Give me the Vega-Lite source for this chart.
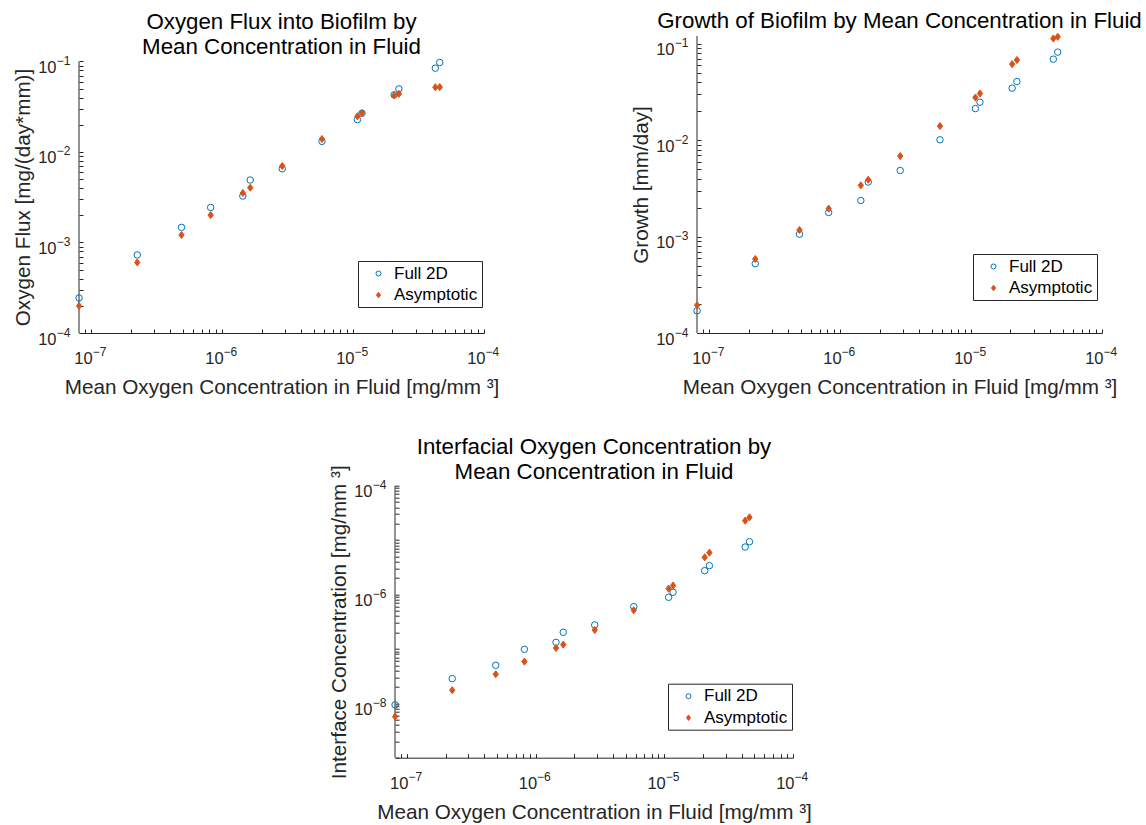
{
  "$schema": "https://vega.github.io/schema/vega-lite/v6.json",
  "background": "white",
  "padding": {"left": 12, "top": 10, "right": 2, "bottom": 2},
  "config": {
    "font": "Liberation Sans",
    "view": {"stroke": null},
    "axis": {
      "grid": false,
      "domainColor": "#262626",
      "domainWidth": 1,
      "tickColor": "#262626",
      "tickWidth": 1,
      "tickSize": -4,
      "labelColor": "#262626",
      "titleColor": "#262626",
      "titleFontSize": 20.7,
      "titleFontWeight": "normal",
      "labelOverlap": false,
      "labelFlush": false,
      "labelBound": false
    },
    "title": {"fontSize": 22.3, "fontWeight": "normal", "color": "#000000", "anchor": "middle", "baseline": "alphabetic", "lineHeight": 25.4},
    "legend": {
      "strokeColor": "#262626",
      "fillColor": "white",
      "padding": 4,
      "labelFontSize": 17,
      "labelColor": "#000000",
      "symbolSize": 25,
      "symbolStrokeWidth": 1,
      "rowPadding": 3.5,
      "symbolOffset": 8,
      "labelOffset": 7
    }
  },
  "datasets": {
    "flux": [
      {"c": 8.09e-8, "series": "Full 2D", "v": 2.44e-4},
      {"c": 2.25e-7, "series": "Full 2D", "v": 7.29e-4},
      {"c": 4.90e-7, "series": "Full 2D", "v": 1.47e-3},
      {"c": 8.18e-7, "series": "Full 2D", "v": 2.44e-3},
      {"c": 1.44e-6, "series": "Full 2D", "v": 3.26e-3},
      {"c": 1.64e-6, "series": "Full 2D", "v": 4.90e-3},
      {"c": 2.88e-6, "series": "Full 2D", "v": 6.53e-3},
      {"c": 5.79e-6, "series": "Full 2D", "v": 1.31e-2},
      {"c": 1.08e-5, "series": "Full 2D", "v": 2.28e-2},
      {"c": 1.17e-5, "series": "Full 2D", "v": 2.68e-2},
      {"c": 2.06e-5, "series": "Full 2D", "v": 4.28e-2},
      {"c": 2.24e-5, "series": "Full 2D", "v": 4.98e-2},
      {"c": 4.25e-5, "series": "Full 2D", "v": 8.43e-2},
      {"c": 4.59e-5, "series": "Full 2D", "v": 9.75e-2},
      {"c": 8.09e-8, "series": "Asymptotic", "v": 1.99e-4},
      {"c": 2.25e-7, "series": "Asymptotic", "v": 6.01e-4},
      {"c": 4.90e-7, "series": "Asymptotic", "v": 1.21e-3},
      {"c": 8.18e-7, "series": "Asymptotic", "v": 2.01e-3},
      {"c": 1.44e-6, "series": "Asymptotic", "v": 3.52e-3},
      {"c": 1.64e-6, "series": "Asymptotic", "v": 4.03e-3},
      {"c": 2.88e-6, "series": "Asymptotic", "v": 7.00e-3},
      {"c": 5.79e-6, "series": "Asymptotic", "v": 1.39e-2},
      {"c": 1.08e-5, "series": "Asymptotic", "v": 2.48e-2},
      {"c": 1.17e-5, "series": "Asymptotic", "v": 2.70e-2},
      {"c": 2.06e-5, "series": "Asymptotic", "v": 4.21e-2},
      {"c": 2.24e-5, "series": "Asymptotic", "v": 4.39e-2},
      {"c": 4.25e-5, "series": "Asymptotic", "v": 5.19e-2},
      {"c": 4.59e-5, "series": "Asymptotic", "v": 5.21e-2}
    ],
    "growth": [
      {"c": 8.09e-8, "series": "Full 2D", "v": 1.70e-4},
      {"c": 2.25e-7, "series": "Full 2D", "v": 5.24e-4},
      {"c": 4.90e-7, "series": "Full 2D", "v": 1.06e-3},
      {"c": 8.18e-7, "series": "Full 2D", "v": 1.78e-3},
      {"c": 1.44e-6, "series": "Full 2D", "v": 2.37e-3},
      {"c": 1.64e-6, "series": "Full 2D", "v": 3.68e-3},
      {"c": 2.88e-6, "series": "Full 2D", "v": 4.85e-3},
      {"c": 5.79e-6, "series": "Full 2D", "v": 1.01e-2},
      {"c": 1.08e-5, "series": "Full 2D", "v": 2.13e-2},
      {"c": 1.17e-5, "series": "Full 2D", "v": 2.48e-2},
      {"c": 2.06e-5, "series": "Full 2D", "v": 3.47e-2},
      {"c": 2.24e-5, "series": "Full 2D", "v": 4.06e-2},
      {"c": 4.25e-5, "series": "Full 2D", "v": 6.93e-2},
      {"c": 4.59e-5, "series": "Full 2D", "v": 8.20e-2},
      {"c": 8.09e-8, "series": "Asymptotic", "v": 1.94e-4},
      {"c": 2.25e-7, "series": "Asymptotic", "v": 5.85e-4},
      {"c": 4.90e-7, "series": "Asymptotic", "v": 1.17e-3},
      {"c": 8.18e-7, "series": "Asymptotic", "v": 1.95e-3},
      {"c": 1.44e-6, "series": "Asymptotic", "v": 3.40e-3},
      {"c": 1.64e-6, "series": "Asymptotic", "v": 3.89e-3},
      {"c": 2.88e-6, "series": "Asymptotic", "v": 6.84e-3},
      {"c": 5.79e-6, "series": "Asymptotic", "v": 1.40e-2},
      {"c": 1.08e-5, "series": "Asymptotic", "v": 2.77e-2},
      {"c": 1.17e-5, "series": "Asymptotic", "v": 3.05e-2},
      {"c": 2.06e-5, "series": "Asymptotic", "v": 6.15e-2},
      {"c": 2.24e-5, "series": "Asymptotic", "v": 6.78e-2},
      {"c": 4.25e-5, "series": "Asymptotic", "v": 1.135e-1},
      {"c": 4.59e-5, "series": "Asymptotic", "v": 1.183e-1}
    ],
    "interface": [
      {"c": 8.09e-8, "series": "Full 2D", "v": 9.35e-9},
      {"c": 2.25e-7, "series": "Full 2D", "v": 2.84e-8},
      {"c": 4.90e-7, "series": "Full 2D", "v": 5.00e-8},
      {"c": 8.18e-7, "series": "Full 2D", "v": 9.84e-8},
      {"c": 1.44e-6, "series": "Full 2D", "v": 1.32e-7},
      {"c": 1.64e-6, "series": "Full 2D", "v": 2.02e-7},
      {"c": 2.88e-6, "series": "Full 2D", "v": 2.75e-7},
      {"c": 5.79e-6, "series": "Full 2D", "v": 5.98e-7},
      {"c": 1.08e-5, "series": "Full 2D", "v": 8.89e-7},
      {"c": 1.17e-5, "series": "Full 2D", "v": 1.10e-6},
      {"c": 2.06e-5, "series": "Full 2D", "v": 2.74e-6},
      {"c": 2.24e-5, "series": "Full 2D", "v": 3.39e-6},
      {"c": 4.25e-5, "series": "Full 2D", "v": 7.46e-6},
      {"c": 4.59e-5, "series": "Full 2D", "v": 9.35e-6},
      {"c": 8.09e-8, "series": "Asymptotic", "v": 5.70e-9},
      {"c": 2.25e-7, "series": "Asymptotic", "v": 1.74e-8},
      {"c": 4.90e-7, "series": "Asymptotic", "v": 3.42e-8},
      {"c": 8.18e-7, "series": "Asymptotic", "v": 5.85e-8},
      {"c": 1.44e-6, "series": "Asymptotic", "v": 1.04e-7},
      {"c": 1.64e-6, "series": "Asymptotic", "v": 1.20e-7},
      {"c": 2.88e-6, "series": "Asymptotic", "v": 2.23e-7},
      {"c": 5.79e-6, "series": "Asymptotic", "v": 5.13e-7},
      {"c": 1.08e-5, "series": "Asymptotic", "v": 1.28e-6},
      {"c": 1.17e-5, "series": "Asymptotic", "v": 1.46e-6},
      {"c": 2.06e-5, "series": "Asymptotic", "v": 4.82e-6},
      {"c": 2.24e-5, "series": "Asymptotic", "v": 5.87e-6},
      {"c": 4.25e-5, "series": "Asymptotic", "v": 2.28e-5},
      {"c": 4.59e-5, "series": "Asymptotic", "v": 2.62e-5}
    ]
  },
  "resolve": {
    "scale": {"stroke": "independent", "fill": "independent", "shape": "independent"},
    "legend": {"stroke": "independent", "fill": "independent", "shape": "independent"}
  },
  "spacing": 37.7,
  "vconcat": [
    {
      "bounds": "flush",
      "spacing": 213,
      "resolve": {
        "scale": {"stroke": "independent", "fill": "independent", "shape": "independent"},
        "legend": {"stroke": "independent", "fill": "independent", "shape": "independent"}
      },
      "hconcat": [
        {
          "width": 405,
          "height": 297,
          "title": {"text": ["Oxygen Flux into Biofilm by", "Mean Concentration in Fluid"], "offset": -22.5},
          "resolve": {"axis": {"x": "independent", "y": "independent"}},
          "layer": [
            {
              "data": {"values": [{}]},
              "mark": {"type": "rule", "color": "#262626", "strokeWidth": 1},
              "encoding": {
                "x": {
                  "datum": 8.08e-8, "type": "quantitative",
                  "scale": {"type": "log", "domain": [8.08e-8, 1e-4], "nice": false},
                  "axis": {"orient": "bottom", "title": null, "values": [1e-7, 1e-6, 1e-5, 1e-4], "ticks": false, "tickSize": 0, "domain": false, "labelExpr": "'−' + (-round(log(datum.value)/LN10))", "labelFontSize": 12, "labelAlign": "left", "labelBaseline": "alphabetic", "labelPadding": 22.3, "labelOffset": 1}
                },
                "y": {
                  "datum": 1e-4, "type": "quantitative",
                  "scale": {"type": "log", "domain": [1e-4, 0.1913], "nice": false},
                  "axis": {"orient": "left", "title": null, "values": [1e-4, 1e-3, 1e-2, 1e-1], "ticks": false, "tickSize": 0, "domain": false, "labelExpr": "'−' + (-round(log(datum.value)/LN10))", "labelFontSize": 12, "labelAlign": "right", "labelBaseline": "alphabetic", "labelPadding": 9, "labelOffset": 3}
                },
                "y2": {"datum": 0.1}
              }
            },
            {
              "data": {"name": "flux"},
              "mark": {"type": "point", "filled": false, "strokeWidth": 1, "size": 42, "opacity": 1},
              "encoding": {
                "x": {
                  "field": "c", "type": "quantitative",
                  "scale": {"type": "log", "domain": [8.08e-8, 1e-4], "nice": false},
                  "axis": {
                    "orient": "bottom",
                    "title": "Mean Oxygen Concentration in Fluid [mg/mm ³]",
                    "titleY": 60, "titleBaseline": "alphabetic",
                    "values": [9e-8,1e-7,2e-7,3e-7,4e-7,5e-7,6e-7,7e-7,8e-7,9e-7,1e-6,2e-6,3e-6,4e-6,5e-6,6e-6,7e-6,8e-6,9e-6,1e-5,2e-5,3e-5,4e-5,5e-5,6e-5,7e-5,8e-5,9e-5,1e-4],
                    "labelExpr": "abs(log(datum.value)/LN10 - round(log(datum.value)/LN10)) < 0.01 ? '10' : ''",
                    "labelFontSize": 16.5, "labelAlign": "right", "labelBaseline": "alphabetic", "labelPadding": 34.6, "labelOffset": 1
                  }
                },
                "y": {
                  "field": "v", "type": "quantitative",
                  "scale": {"type": "log", "domain": [1e-4, 0.1913], "nice": false},
                  "axis": {
                    "orient": "left",
                    "title": "Oxygen Flux [mg/(day*mm)]",
                    "titleX": -50, "titleY": 161, "titleBaseline": "alphabetic",
                    "domain": false,
                    "values": [1e-4,2e-4,3e-4,4e-4,5e-4,6e-4,7e-4,8e-4,9e-4,1e-3,2e-3,3e-3,4e-3,5e-3,6e-3,7e-3,8e-3,9e-3,1e-2,2e-2,3e-2,4e-2,5e-2,6e-2,7e-2,8e-2,9e-2,1e-1],
                    "labelExpr": "abs(log(datum.value)/LN10 - round(log(datum.value)/LN10)) < 0.01 ? '10' : ''",
                    "labelFontSize": 16.5, "labelAlign": "right", "labelBaseline": "alphabetic", "labelPadding": 27, "labelOffset": 11
                  }
                },
                "stroke": {"field": "series", "type": "nominal", "scale": {"domain": ["Full 2D", "Asymptotic"], "range": ["#0072BD", "#D95319"]}, "legend": {"orient": "none", "legendX": 279, "legendY": 225, "title": null, "labelExpr": "datum.label + '\u00a0'"}},
                "fill": {"field": "series", "type": "nominal", "scale": {"domain": ["Full 2D", "Asymptotic"], "range": ["transparent", "#D95319"]}, "legend": {"orient": "none", "legendX": 279, "legendY": 225, "title": null, "labelExpr": "datum.label + '\u00a0'"}},
                "shape": {"field": "series", "type": "nominal", "scale": {"domain": ["Full 2D", "Asymptotic"], "range": ["circle", "M0,-1.1L0.82,0L0,1.1L-0.82,0Z"]}, "legend": {"orient": "none", "legendX": 279, "legendY": 225, "title": null, "labelExpr": "datum.label + '\u00a0'"}}
              }
            }
          ]
        },
        {
          "width": 405,
          "height": 297,
          "title": {"text": "Growth of Biofilm by Mean Concentration in Fluid", "offset": -1.4},
          "resolve": {"axis": {"x": "independent", "y": "independent"}},
          "layer": [
            {
              "data": {"values": [{}]},
              "mark": {"type": "rule", "color": "#262626", "strokeWidth": 1},
              "encoding": {
                "x": {
                  "datum": 8.08e-8, "type": "quantitative",
                  "scale": {"type": "log", "domain": [8.08e-8, 1e-4], "nice": false},
                  "axis": {"orient": "bottom", "title": null, "values": [1e-7, 1e-6, 1e-5, 1e-4], "ticks": false, "tickSize": 0, "domain": false, "labelExpr": "'−' + (-round(log(datum.value)/LN10))", "labelFontSize": 12, "labelAlign": "left", "labelBaseline": "alphabetic", "labelPadding": 22.3, "labelOffset": 1}
                },
                "y": {
                  "datum": 1e-4, "type": "quantitative",
                  "scale": {"type": "log", "domain": [1e-4, 0.1205], "nice": false},
                  "axis": {"orient": "left", "title": null, "values": [1e-4, 1e-3, 1e-2, 1e-1], "ticks": false, "tickSize": 0, "domain": false, "labelExpr": "'−' + (-round(log(datum.value)/LN10))", "labelFontSize": 12, "labelAlign": "right", "labelBaseline": "alphabetic", "labelPadding": 9, "labelOffset": 3}
                },
                "y2": {"datum": 0.1205}
              }
            },
            {
              "data": {"name": "growth"},
              "mark": {"type": "point", "filled": false, "strokeWidth": 1, "size": 42, "opacity": 1},
              "encoding": {
                "x": {
                  "field": "c", "type": "quantitative",
                  "scale": {"type": "log", "domain": [8.08e-8, 1e-4], "nice": false},
                  "axis": {
                    "orient": "bottom",
                    "title": "Mean Oxygen Concentration in Fluid [mg/mm ³]",
                    "titleY": 60, "titleBaseline": "alphabetic",
                    "values": [9e-8,1e-7,2e-7,3e-7,4e-7,5e-7,6e-7,7e-7,8e-7,9e-7,1e-6,2e-6,3e-6,4e-6,5e-6,6e-6,7e-6,8e-6,9e-6,1e-5,2e-5,3e-5,4e-5,5e-5,6e-5,7e-5,8e-5,9e-5,1e-4],
                    "labelExpr": "abs(log(datum.value)/LN10 - round(log(datum.value)/LN10)) < 0.01 ? '10' : ''",
                    "labelFontSize": 16.5, "labelAlign": "right", "labelBaseline": "alphabetic", "labelPadding": 34.6, "labelOffset": 1
                  }
                },
                "y": {
                  "field": "v", "type": "quantitative",
                  "scale": {"type": "log", "domain": [1e-4, 0.1205], "nice": false},
                  "axis": {
                    "orient": "left",
                    "title": "Growth [mm/day]",
                    "titleX": -50, "titleBaseline": "alphabetic",
                    "domain": false,
                    "values": [1e-4,2e-4,3e-4,4e-4,5e-4,6e-4,7e-4,8e-4,9e-4,1e-3,2e-3,3e-3,4e-3,5e-3,6e-3,7e-3,8e-3,9e-3,1e-2,2e-2,3e-2,4e-2,5e-2,6e-2,7e-2,8e-2,9e-2,1e-1],
                    "labelExpr": "abs(log(datum.value)/LN10 - round(log(datum.value)/LN10)) < 0.01 ? '10' : ''",
                    "labelFontSize": 16.5, "labelAlign": "right", "labelBaseline": "alphabetic", "labelPadding": 27, "labelOffset": 11
                  }
                },
                "stroke": {"field": "series", "type": "nominal", "scale": {"domain": ["Full 2D", "Asymptotic"], "range": ["#0072BD", "#D95319"]}, "legend": {"orient": "none", "legendX": 276, "legendY": 218, "title": null, "labelExpr": "datum.label + '\u00a0'"}},
                "fill": {"field": "series", "type": "nominal", "scale": {"domain": ["Full 2D", "Asymptotic"], "range": ["transparent", "#D95319"]}, "legend": {"orient": "none", "legendX": 276, "legendY": 218, "title": null, "labelExpr": "datum.label + '\u00a0'"}},
                "shape": {"field": "series", "type": "nominal", "scale": {"domain": ["Full 2D", "Asymptotic"], "range": ["circle", "M0,-1.1L0.82,0L0,1.1L-0.82,0Z"]}, "legend": {"orient": "none", "legendX": 276, "legendY": 218, "title": null, "labelExpr": "datum.label + '\u00a0'"}}
              }
            }
          ]
        }
      ]
    },
    {
      "bounds": "flush",
      "spacing": 315,
      "resolve": {
        "scale": {"stroke": "independent", "fill": "independent", "shape": "independent"},
        "legend": {"stroke": "independent", "fill": "independent", "shape": "independent"}
      },
      "hconcat": [
        {
          "width": 1,
          "height": 1,
          "data": {"values": []},
          "mark": "point"
        },
        {
          "width": 398,
          "height": 272,
          "title": {"text": ["Interfacial Oxygen Concentration by", "Mean Concentration in Fluid"], "offset": -18.6},
          "resolve": {"axis": {"x": "independent", "y": "independent"}},
          "layer": [
            {
              "data": {"values": [{}]},
              "mark": {"type": "rule", "color": "#262626", "strokeWidth": 1},
              "encoding": {
                "x": {
                  "datum": 8.08e-8, "type": "quantitative",
                  "scale": {"type": "log", "domain": [8.08e-8, 1e-4], "nice": false},
                  "axis": {"orient": "bottom", "title": null, "values": [1e-7, 1e-6, 1e-5, 1e-4], "ticks": false, "tickSize": 0, "domain": false, "labelExpr": "'−' + (-round(log(datum.value)/LN10))", "labelFontSize": 12, "labelAlign": "left", "labelBaseline": "alphabetic", "labelPadding": 22.3, "labelOffset": 1}
                },
                "y": {
                  "datum": 1e-9, "type": "quantitative",
                  "scale": {"type": "log", "domain": [1e-9, 1e-4], "nice": false},
                  "axis": {"orient": "left", "title": null, "values": [1e-8, 1e-6, 1e-4], "ticks": false, "tickSize": 0, "domain": false, "labelExpr": "'−' + (-round(log(datum.value)/LN10))", "labelFontSize": 12, "labelAlign": "right", "labelBaseline": "alphabetic", "labelPadding": 9, "labelOffset": 3}
                },
                "y2": {"datum": 1e-4}
              }
            },
            {
              "data": {"name": "interface"},
              "mark": {"type": "point", "filled": false, "strokeWidth": 1, "size": 42, "opacity": 1},
              "encoding": {
                "x": {
                  "field": "c", "type": "quantitative",
                  "scale": {"type": "log", "domain": [8.08e-8, 1e-4], "nice": false},
                  "axis": {
                    "orient": "bottom",
                    "title": "Mean Oxygen Concentration in Fluid [mg/mm ³]",
                    "titleY": 60.3, "titleBaseline": "alphabetic",
                    "values": [9e-8,1e-7,2e-7,3e-7,4e-7,5e-7,6e-7,7e-7,8e-7,9e-7,1e-6,2e-6,3e-6,4e-6,5e-6,6e-6,7e-6,8e-6,9e-6,1e-5,2e-5,3e-5,4e-5,5e-5,6e-5,7e-5,8e-5,9e-5,1e-4],
                    "labelExpr": "abs(log(datum.value)/LN10 - round(log(datum.value)/LN10)) < 0.01 ? '10' : ''",
                    "labelFontSize": 16.5, "labelAlign": "right", "labelBaseline": "alphabetic", "labelPadding": 34.6, "labelOffset": 1
                  }
                },
                "y": {
                  "field": "v", "type": "quantitative",
                  "scale": {"type": "log", "domain": [1e-9, 1e-4], "nice": false},
                  "axis": {
                    "orient": "left",
                    "title": "Interface Concentration [mg/mm ³]",
                    "titleX": -50, "titleBaseline": "alphabetic",
                    "domain": false,
                    "values": [1e-9,2e-9,3e-9,4e-9,5e-9,6e-9,7e-9,8e-9,9e-9,1e-8,2e-8,3e-8,4e-8,5e-8,6e-8,7e-8,8e-8,9e-8,1e-7,2e-7,3e-7,4e-7,5e-7,6e-7,7e-7,8e-7,9e-7,1e-6,2e-6,3e-6,4e-6,5e-6,6e-6,7e-6,8e-6,9e-6,1e-5,2e-5,3e-5,4e-5,5e-5,6e-5,7e-5,8e-5,9e-5,1e-4],
                    "labelExpr": "abs(log(datum.value)/LN10 - round(log(datum.value)/LN10)) < 0.01 && round(log(datum.value)/LN10) % 2 == 0 ? '10' : ''",
                    "labelFontSize": 16.5, "labelAlign": "right", "labelBaseline": "alphabetic", "labelPadding": 27, "labelOffset": 11
                  }
                },
                "stroke": {"field": "series", "type": "nominal", "scale": {"domain": ["Full 2D", "Asymptotic"], "range": ["#0072BD", "#D95319"]}, "legend": {"orient": "none", "legendX": 273, "legendY": 198, "title": null, "labelExpr": "datum.label + '\u00a0'"}},
                "fill": {"field": "series", "type": "nominal", "scale": {"domain": ["Full 2D", "Asymptotic"], "range": ["transparent", "#D95319"]}, "legend": {"orient": "none", "legendX": 273, "legendY": 198, "title": null, "labelExpr": "datum.label + '\u00a0'"}},
                "shape": {"field": "series", "type": "nominal", "scale": {"domain": ["Full 2D", "Asymptotic"], "range": ["circle", "M0,-1.1L0.82,0L0,1.1L-0.82,0Z"]}, "legend": {"orient": "none", "legendX": 273, "legendY": 198, "title": null, "labelExpr": "datum.label + '\u00a0'"}}
              }
            }
          ]
        }
      ]
    }
  ]
}
